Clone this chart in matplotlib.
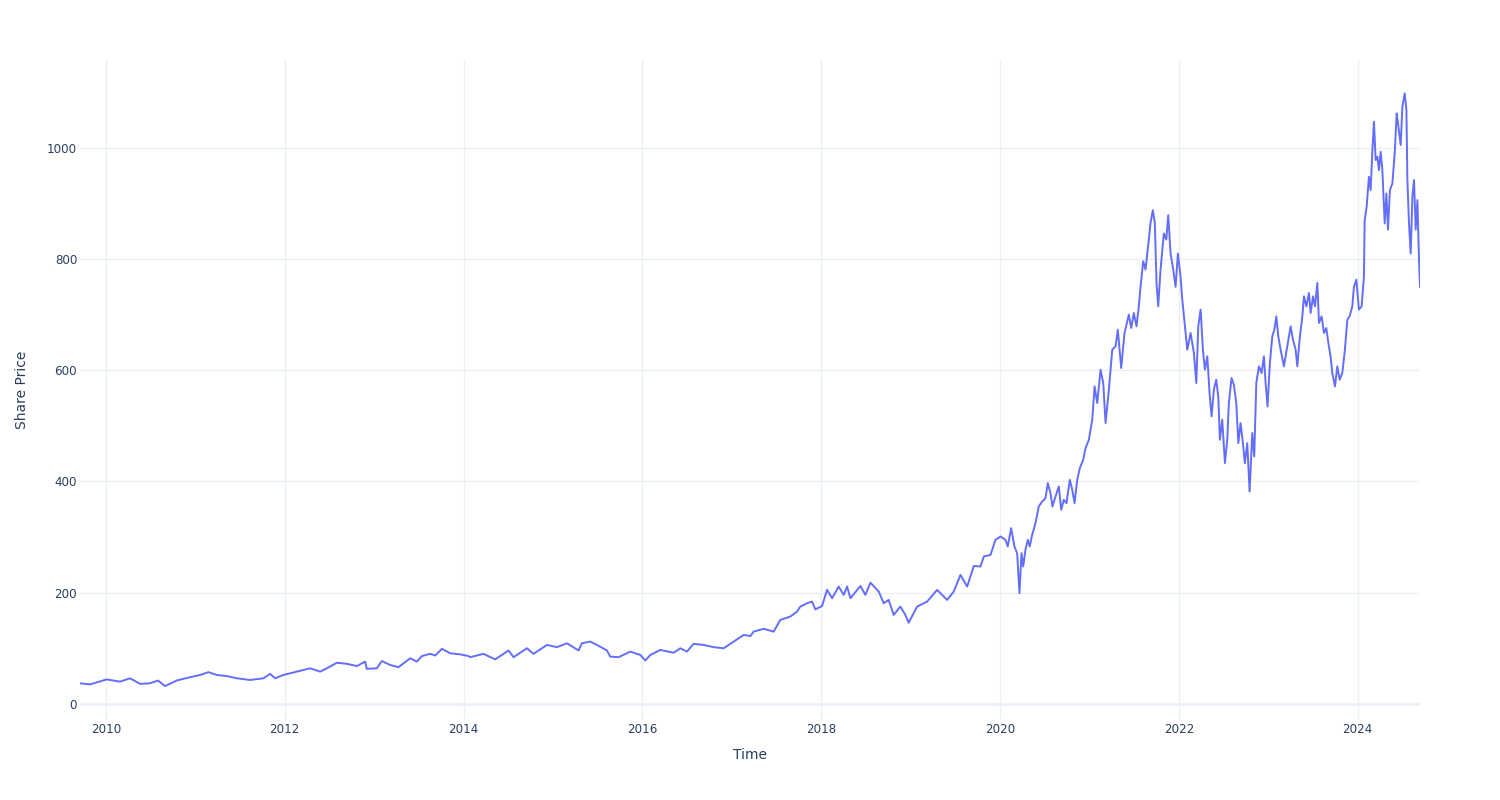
"""
Share price over time, plotly-white look in matplotlib.
"""

import numpy as np
import pandas as pd
import matplotlib
matplotlib.use("Agg")
import matplotlib.pyplot as plt
import matplotlib.dates as mdates

# ── Data (time as decimal year) ───────────────────────────────────────────────
years = [
    2009.709, 2009.821, 2010.008, 2010.157, 2010.269, 2010.380, 2010.492, 2010.582,
    2010.660, 2010.791, 2010.940, 2011.052, 2011.145, 2011.239, 2011.351, 2011.463,
    2011.611, 2011.760, 2011.835, 2011.891, 2011.984, 2012.134, 2012.283, 2012.395,
    2012.470, 2012.582, 2012.694, 2012.806, 2012.898, 2012.917, 2013.029, 2013.085,
    2013.178, 2013.271, 2013.402, 2013.477, 2013.533, 2013.626, 2013.682, 2013.757,
    2013.850, 2013.962, 2014.054, 2014.073, 2014.222, 2014.353, 2014.502, 2014.558,
    2014.708, 2014.782, 2014.932, 2015.044, 2015.156, 2015.285, 2015.323, 2015.416,
    2015.491, 2015.603, 2015.640, 2015.733, 2015.864, 2015.976, 2016.032, 2016.088,
    2016.200, 2016.349, 2016.424, 2016.498, 2016.572, 2016.684, 2016.796, 2016.908,
    2017.020, 2017.132, 2017.207, 2017.244, 2017.356, 2017.468, 2017.542, 2017.654,
    2017.730, 2017.766, 2017.841, 2017.897, 2017.934, 2018.009, 2018.065, 2018.121,
    2018.195, 2018.251, 2018.289, 2018.326, 2018.438, 2018.494, 2018.550, 2018.643,
    2018.698, 2018.754, 2018.810, 2018.885, 2018.941, 2018.978, 2019.072, 2019.184,
    2019.296, 2019.408, 2019.482, 2019.557, 2019.632, 2019.706, 2019.781, 2019.818,
    2019.893, 2019.949, 2020.005, 2020.061, 2020.086, 2020.124, 2020.161, 2020.191,
    2020.217, 2020.240, 2020.259, 2020.284, 2020.310, 2020.332, 2020.359, 2020.396,
    2020.433, 2020.471, 2020.508, 2020.534, 2020.564, 2020.586, 2020.620, 2020.657,
    2020.684, 2020.713, 2020.743, 2020.780, 2020.807, 2020.833, 2020.863, 2020.892,
    2020.930, 2020.956, 2020.993, 2021.031, 2021.057, 2021.087, 2021.124, 2021.154,
    2021.180, 2021.217, 2021.255, 2021.292, 2021.317, 2021.355, 2021.392, 2021.440,
    2021.467, 2021.496, 2021.526, 2021.552, 2021.571, 2021.601, 2021.627, 2021.664,
    2021.683, 2021.709, 2021.731, 2021.750, 2021.769, 2021.795, 2021.832, 2021.859,
    2021.881, 2021.907, 2021.937, 2021.963, 2021.989, 2022.019, 2022.038, 2022.064,
    2022.094, 2022.131, 2022.168, 2022.195, 2022.217, 2022.243, 2022.269, 2022.291,
    2022.318, 2022.343, 2022.366, 2022.391, 2022.418, 2022.441, 2022.459, 2022.485,
    2022.515, 2022.541, 2022.559, 2022.589, 2022.615, 2022.642, 2022.665, 2022.690,
    2022.716, 2022.738, 2022.765, 2022.791, 2022.821, 2022.843, 2022.866, 2022.895,
    2022.925, 2022.951, 2022.970, 2022.992, 2023.018, 2023.045, 2023.068, 2023.090,
    2023.112, 2023.138, 2023.175, 2023.231, 2023.250, 2023.276, 2023.306, 2023.325,
    2023.350, 2023.381, 2023.399, 2023.426, 2023.455, 2023.474, 2023.500, 2023.522,
    2023.549, 2023.567, 2023.597, 2023.623, 2023.649, 2023.672, 2023.697, 2023.716,
    2023.746, 2023.772, 2023.798, 2023.828, 2023.857, 2023.884, 2023.910, 2023.940,
    2023.958, 2023.985, 2024.014, 2024.044, 2024.070, 2024.078, 2024.100, 2024.126,
    2024.145, 2024.164, 2024.182, 2024.201, 2024.220, 2024.238, 2024.257, 2024.276,
    2024.302, 2024.321, 2024.339, 2024.361, 2024.388, 2024.414, 2024.436, 2024.451,
    2024.481, 2024.500, 2024.526, 2024.545, 2024.556, 2024.574, 2024.593, 2024.612,
    2024.630, 2024.649, 2024.668, 2024.686, 2024.697,
]
price = [
    37, 35, 44, 40, 46, 36, 37, 42,
    32, 42, 48, 52, 57, 52, 50, 46,
    43, 46, 54, 46, 52, 58, 64, 58,
    64, 74, 72, 68, 76, 63, 64, 77,
    70, 66, 82, 76, 86, 90, 87, 99,
    91, 89, 86, 84, 90, 80, 96, 84,
    100, 90, 106, 102, 109, 96, 109, 112,
    106, 96, 85, 84, 94, 88, 78, 88,
    97, 92, 100, 94, 108, 106, 102, 100,
    112, 124, 122, 130, 135, 130, 151, 157,
    166, 175, 181, 184, 170, 176, 205, 190,
    211, 196, 211, 190, 212, 196, 218, 202,
    181, 187, 160, 175, 160, 146, 175, 184,
    205, 187, 202, 232, 211, 248, 247, 265,
    268, 295, 301, 295, 283, 316, 283, 271,
    199, 271, 247, 277, 295, 283, 304, 325,
    355, 364, 370, 397, 379, 355, 373, 391,
    349, 367, 361, 403, 385, 361, 403, 424,
    439, 460, 475, 511, 571, 541, 601, 577,
    505, 565, 637, 643, 673, 604, 667, 700,
    676, 703, 679, 715, 750, 796, 781, 835,
    865, 888, 865, 757, 715, 781, 846, 835,
    879, 810, 781, 750, 810, 768, 727, 685,
    637, 667, 631, 577, 679, 709, 637, 601,
    625, 559, 517, 565, 583, 552, 475, 511,
    433, 475, 541, 586, 574, 541, 469, 505,
    469, 433, 469, 382, 487, 445, 577, 607,
    595, 625, 577, 535, 613, 661, 673, 697,
    661, 637, 607, 661, 679, 655, 637, 607,
    655, 697, 733, 715, 739, 703, 733, 715,
    757, 685, 697, 667, 676, 649, 625, 595,
    571, 607, 583, 595, 637, 691, 697, 715,
    750, 763, 709, 715, 769, 870, 894, 948,
    924, 993, 1047, 978, 984, 960, 993, 960,
    864, 918, 853, 924, 936, 990, 1062, 1044,
    1005, 1074, 1098, 1068, 942, 864, 810, 912,
    942, 853, 906, 799, 750,
]

dates = pd.Timestamp("2010-01-01") + pd.to_timedelta(
    (np.array(years) - 2010) * 365.25, unit="D")

# ── Style ─────────────────────────────────────────────────────────────────────
LINE = "#636EFA"
GRID = "#EBF0F8"
TEXT = "#2A3F5F"
plt.rcParams["font.family"] = ["DejaVu Sans"]

fig = plt.figure(figsize=(15, 8), dpi=100, facecolor="white")
ax = fig.add_axes([80 / 1500, 80 / 800, 1340 / 1500, 660 / 800])
ax.set_facecolor("white")

ax.plot(dates, price, color=LINE, linewidth=1.4, zorder=3)

ax.set_xlim(dates[0], dates[-1])
ax.set_ylim(-29, 1158)

ax.xaxis.set_major_locator(mdates.YearLocator(2))
ax.xaxis.set_major_formatter(mdates.DateFormatter("%Y"))
ax.set_yticks([0, 200, 400, 600, 800, 1000])

ax.grid(True, color=GRID, linewidth=1, zorder=0)
ax.axhline(0, color=GRID, linewidth=2, zorder=1)
ax.set_axisbelow(True)
for s in ax.spines.values():
    s.set_visible(False)
ax.tick_params(length=0, labelsize=8.6, colors=TEXT)
ax.tick_params(axis="x", pad=2)
ax.tick_params(axis="y", pad=2)

ax.set_xlabel("Time", fontsize=10, color=TEXT, labelpad=8.5)
ax.set_ylabel("Share Price", fontsize=10, color=TEXT, labelpad=13)

fig.savefig("out.png", dpi=100, facecolor="white")
